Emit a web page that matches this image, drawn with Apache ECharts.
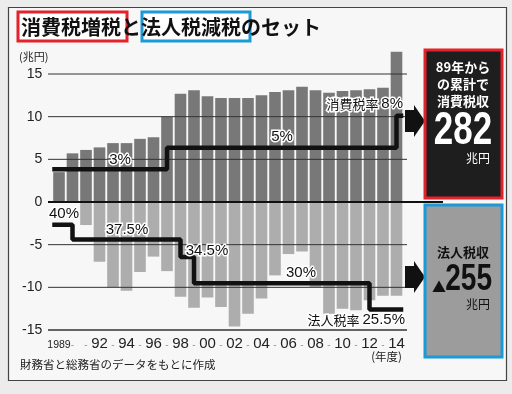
<!DOCTYPE html>
<html><head><meta charset="utf-8">
<script src="https://cdn.jsdelivr.net/npm/echarts@6/dist/echarts.min.js"></script>
<style>html,body{margin:0;padding:0;background:#ececec;}#c{width:512px;height:394px;}</style>
</head><body><div id="c"></div>
<script>
// ---- data ----
const years = [1989,1990,1991,1992,1993,1994,1995,1996,1997,1998,1999,2000,2001,2002,2003,2004,2005,2006,2007,2008,2009,2010,2011,2012,2013,2014];
const consumptionTax = [3.5,5.7,6.1,6.4,6.9,6.9,7.4,7.6,10.0,12.7,13.1,12.4,12.2,12.2,12.2,12.5,12.9,13.1,13.5,13.1,12.8,13.0,13.1,13.2,13.4,17.6];
const corporateTaxCut = [0,0,-2.7,-7.0,-10.0,-10.4,-8.2,-6.4,-8.1,-11.1,-12.4,-11.2,-12.3,-14.6,-13.1,-11.3,-8.6,-6.1,-5.8,-10.0,-13.1,-12.5,-12.7,-11.5,-11.0,-11.0];
const consumptionRateChanges = [[1989,3],[1997,5],[2014,8]];
const corporateRateChanges = [[1989,40],[1990,37.5],[1998,34.5],[1999,30],[2012,25.5]];
const yTicks = [-15,-10,-5,0,5,10,15];
const totalConsumption = '282';
const totalCorporate = '255';

// ---- helpers ----
function stepPoints(changes, start, end){
  const pts = [];
  changes.forEach((c,i)=>{
    if(i===0) pts.push([start,c[1]]);
    else { pts.push([c[0],changes[i-1][1]]); pts.push([c[0],c[1]]); }
  });
  pts.push([end,changes[changes.length-1][1]]);
  return pts;
}
const xStart = years[0]-0.5, xEnd = years[years.length-1]+0.5;
const NUM = "'Liberation Sans Narrow','Liberation Sans',Arial,sans-serif";
const JP = "'Noto Sans CJK JP',sans-serif";

const chart = echarts.init(document.getElementById('c'));
const option = {
  backgroundColor:'#ececec',
  animation:false,
  grid:{left:52.25,right:108.75,top:74,bottom:64},
  xAxis:[{
    type:'category', data:years.map(String),
    axisLine:{show:false}, axisTick:{show:false},
    axisLabel:{interval:0, margin:6,
      formatter:(v,i)=>{ const y=+v; if(y===1989) return '{s|1989}'; if(y%2===0 && y>=1992) return '{b|'+String(y).slice(2)+'}'; return '{d|-}'; },
      rich:{ s:{fontSize:10.5,padding:[4,0,0,0],fontFamily:NUM,color:'#222'}, b:{fontSize:15,fontFamily:NUM,color:'#222'}, d:{fontSize:10,padding:[4,0,0,0],color:'#999',fontFamily:NUM} } }
  },{
    type:'value', min:xStart, max:xEnd, show:false
  }],
  yAxis:[{
    type:'value', min:-15, max:15, interval:5,
    axisLine:{show:false}, axisTick:{show:false}, splitLine:{show:false},
    axisLabel:{fontSize:14, color:'#222', fontFamily:NUM, margin:10}
  },{
    type:'value', min:-11.97, max:11.88, show:false
  },{
    type:'value', min:22.0, max:65.8, show:false
  }],
  series:[
    {type:'bar', data:consumptionTax, barWidth:'86%', barGap:'-100%', clip:false, itemStyle:{color:'#787878'}, z:2},
    {type:'bar', data:corporateTaxCut, barWidth:'86%', barGap:'-100%', clip:false, itemStyle:{color:'#adadad'}, z:2},
    {type:'line', xAxisIndex:1, yAxisIndex:1, data:stepPoints(consumptionRateChanges,xStart,xEnd), symbol:'none', lineStyle:{color:'#111',width:4.5}, z:10},
    {type:'line', xAxisIndex:1, yAxisIndex:2, data:stepPoints(corporateRateChanges,xStart,xEnd), symbol:'none', lineStyle:{color:'#111',width:4.5}, z:10}
  ]
};
chart.setOption(option);

// ---- decorations ----
const g = [];
g.push({type:'rect', shape:{x:8.5,y:7.5,width:498,height:373}, style:{fill:'#f7f7f7',stroke:'#444',lineWidth:1.2}, z:-10});
yTicks.forEach(t=>{
  const y = chart.convertToPixel({yAxisIndex:0}, t);
  const x2 = t===0 ? 443 : 407;
  const w = t===0 ? 2.2 : (t===-15 ? 1.5 : 1);
  g.push({type:'line', shape:{x1:48,y1:y,x2:x2,y2:y}, style:{stroke:t===0?'#111':'#333',lineWidth:w}, z:5});
});
g.push({type:'rect', shape:{x:18,y:12,width:109,height:29}, style:{fill:'#fff',stroke:'#e3232b',lineWidth:3}, z:1});
g.push({type:'rect', shape:{x:142,y:12,width:108,height:29}, style:{fill:'#fff',stroke:'#1a9ad6',lineWidth:3}, z:1});
g.push({type:'text', x:21, y:27, style:{text:'消費税増税と法人税減税のセット', font:'bold 20px '+JP, fill:'#111', textVerticalAlign:'middle'}, z:20});
g.push({type:'text', x:19, y:57, style:{text:'(兆円)', font:'11px '+JP, fill:'#222', textVerticalAlign:'middle'}, z:20});
g.push({type:'text', x:402, y:357, style:{text:'(年度)', font:'11.5px '+JP, fill:'#222', textAlign:'right', textVerticalAlign:'middle'}, z:20});
g.push({type:'text', x:20, y:365, style:{text:'財務省と総務省のデータをもとに作成', font:'11.5px '+JP, fill:'#222', textVerticalAlign:'middle'}, z:20});
function lab(text,x,y,align){
  g.push({type:'text', x:x, y:y, style:{text:text, font:'15px '+NUM, fill:'#111', stroke:'#fff', lineWidth:3, textAlign:align||'center', textVerticalAlign:'middle'}, z:20});
}
lab('3%',120,160); lab('5%',282,137);
lab('40%',64,214); lab('37.5%',127,230); lab('34.5%',207,251); lab('30%',301,273);
g.push({type:'text', x:403, y:104, style:{rich:{a:{font:'13px '+JP,fill:'#111'},b:{font:'15px '+NUM,fill:'#111'}}, text:'{a|消費税率 }{b|8%}', stroke:'#fff', lineWidth:3, textAlign:'right', textVerticalAlign:'middle'}, z:20});
g.push({type:'text', x:405, y:320, style:{rich:{a:{font:'13px '+JP,fill:'#111'},b:{font:'15px '+NUM,fill:'#111'}}, text:'{a|法人税率 }{b|25.5%}', stroke:'#fff', lineWidth:3, textAlign:'right', textVerticalAlign:'middle'}, z:20});
function arrow(cy){
  g.push({type:'polygon', shape:{points:[[405,cy-11],[414,cy-11],[414,cy-16],[425,cy],[414,cy+16],[414,cy+11],[405,cy+11]]}, style:{fill:'#111'}, z:12});
}
arrow(121); arrow(277);
g.push({type:'rect', shape:{x:425,y:50,width:77,height:148}, style:{fill:'#1e1e1e',stroke:'#e3232b',lineWidth:3}, z:15});
[['89年から',67],['の累計で',84],['消費税収',101]].forEach(([t,y])=>{
  g.push({type:'text', x:463, y:y, style:{text:t, font:'bold 13px '+JP, fill:'#fff', textAlign:'center', textVerticalAlign:'middle'}, z:20});
});
g.push({type:'text', x:463, y:131, scaleX:0.76, style:{text:totalConsumption, font:'bold 46px '+NUM, fill:'#fff', textAlign:'center', textVerticalAlign:'middle'}, z:20});
g.push({type:'text', x:490, y:158, style:{text:'兆円', font:'12px '+JP, fill:'#fff', textAlign:'right', textVerticalAlign:'middle'}, z:20});
g.push({type:'rect', shape:{x:425,y:205,width:77,height:152}, style:{fill:'#9c9c9c',stroke:'#1a9ad6',lineWidth:3}, z:15});
g.push({type:'text', x:463, y:252, style:{text:'法人税収', font:'bold 13px '+JP, fill:'#111', textAlign:'center', textVerticalAlign:'middle'}, z:20});
g.push({type:'text', x:439, y:287, style:{text:'▲', font:'14px '+JP, fill:'#111', textAlign:'center', textVerticalAlign:'middle'}, z:20});
g.push({type:'text', x:492, y:280, scaleX:0.78, style:{text:totalCorporate, font:'bold 36px '+NUM, fill:'#111', textAlign:'right', textVerticalAlign:'middle'}, z:20});
g.push({type:'text', x:490, y:304, style:{text:'兆円', font:'12px '+JP, fill:'#111', textAlign:'right', textVerticalAlign:'middle'}, z:20});

chart.setOption({graphic:g});
</script></body></html>
